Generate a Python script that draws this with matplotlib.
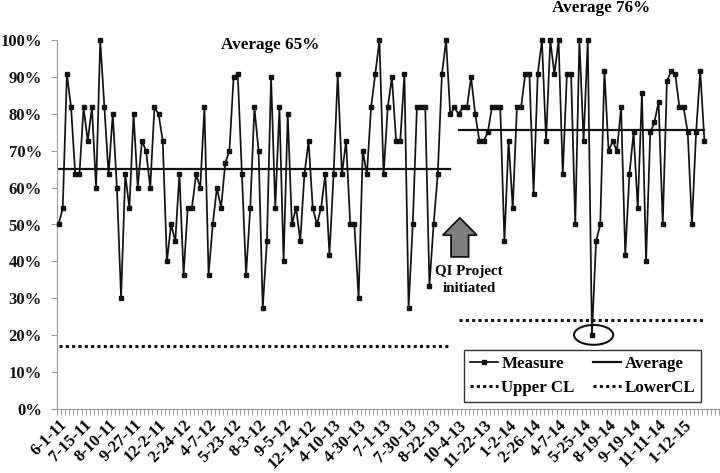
import matplotlib
matplotlib.use('Agg')
import matplotlib.pyplot as plt
from matplotlib.patches import Ellipse, Polygon

plt.rcParams['font.family'] = ['Liberation Serif', 'DejaVu Serif']
plt.rcParams['font.weight'] = 'bold'

# one point per review
measure = [
    50, 54.5, 90.9, 81.8, 63.6, 63.6, 81.8, 72.7, 81.8, 60,
    100, 81.8, 63.6, 80, 60, 30, 63.6, 54.5, 80, 60,
    72.7, 70, 60, 81.8, 80, 72.7, 40, 50, 45.5, 63.6,
    36.4, 54.5, 54.5, 63.6, 60, 81.8, 36.4, 50, 60, 54.5,
    66.7, 70, 90, 90.9, 63.6, 36.4, 54.5, 81.8, 70, 27.3,
    45.5, 90, 54.5, 81.8, 40, 80, 50, 54.5, 45.5, 63.6,
    72.7, 54.5, 50, 54.5, 63.6, 41.7, 63.6, 90.9, 63.6, 72.7,
    50, 50, 30, 70, 63.6, 81.8, 90.9, 100, 63.6, 81.8,
    90, 72.7, 72.7, 90.9, 27.3, 50, 81.8, 81.8, 81.8, 33.3,
    50, 63.6, 90.9, 100, 80, 81.8, 80, 81.8, 81.8, 90,
    80, 72.7, 72.7, 75, 81.8, 81.8, 81.8, 45.5, 72.7, 54.5,
    81.8, 81.8, 90.9, 90.9, 58.3, 90.9, 100, 72.7, 100, 90.9,
    100, 63.6, 90.9, 90.9, 50, 100, 72.7, 100, 20, 45.5,
    50, 91.7, 70, 72.7, 70, 81.8, 41.7, 63.6, 75, 54.5,
    85.7, 40, 75, 77.8, 83.3, 50, 88.9, 91.7, 90.9, 81.8,
    81.8, 75, 50, 75, 91.7, 72.7,
]
date_labels = [
    '6-1-11', '7-15-11', '8-10-11', '9-27-11', '12-2-11', '2-24-12', '4-7-12',
    '5-23-12', '8-3-12', '9-5-12', '12-14-12', '4-10-13', '4-30-13', '7-1-13',
    '7-30-13', '8-22-13', '10-4-13', '11-22-13', '1-2-14', '2-26-14', '4-7-14',
    '5-25-14', '8-19-14', '9-19-14', '11-11-14', '1-12-15',
]
avg_before = 65.2
avg_after = 75.6
cl_before = 17
cl_after = 24
split_before = 94
split_after = 96

dots = (0, (1, 1.07))

fig = plt.figure(figsize=(7.2, 4.73), dpi=100)
ax = fig.add_axes([56.5 / 720, 1 - 408.5 / 473, 662.5 / 720, 368 / 473])

xs = list(range(len(measure)))
ax.plot(xs, measure, color='#111111', lw=1.25, marker='s', ms=2.9, label='Measure', zorder=3, clip_on=False)

ax.plot([0, split_before], [avg_before, avg_before], color='#111111', lw=1.6, label='Average')
ax.plot([split_after, xs[-1]], [avg_after, avg_after], color='#111111', lw=1.6)

ax.plot([], [], color='#111111', lw=2.2, ls=dots, label='Upper CL')
ax.plot([0, split_before], [cl_before, cl_before], color='#111111', lw=2.2, ls=dots, label='LowerCL')
ax.plot([split_after, xs[-1]], [cl_after, cl_after], color='#111111', lw=2.2, ls=dots)

ax.set_xlim(-0.5, 158.5)
ax.set_ylim(0, 100)

ax.set_yticks(range(0, 101, 10))
ax.set_yticklabels([str(v) + '%' for v in range(0, 101, 10)], fontsize=12)
ax.set_xticks(xs[::6])
ax.set_xticklabels(date_labels, fontsize=12, rotation=45, ha='right', rotation_mode='anchor')
ax.set_xticks([i - 0.5 for i in range(160)], minor=True)
ax.tick_params(axis='x', which='major', length=0, pad=6)
ax.tick_params(axis='x', which='minor', length=4.5, width=0.7, color='#999999')
ax.tick_params(axis='y', length=4, width=0.8, color='#999999', pad=6.5, labelcolor='#111111')

ax.spines['top'].set_visible(False)
ax.spines['right'].set_visible(False)
ax.spines['left'].set_color('#999999')
ax.spines['bottom'].set_color('#999999')

ax.text(50.7, 98.7, 'Average 65%', fontsize=12.3, ha='center', va='center')
ax.text(130.2, 108.7, 'Average 76%', fontsize=12.3, ha='center', va='center', clip_on=False)
ax.text(98.5, 35.0, 'QI Project\ninitiated', fontsize=10.8, ha='center', va='center', linespacing=1.4)

# grey arrow at the start of the project
arrow = [(94.2, 41.2), (94.2, 47.1), (92.2, 47.1), (96.3, 51.8),
         (100.4, 47.1), (98.4, 47.1), (98.4, 41.2)]
ax.add_patch(Polygon(arrow, closed=True, facecolor='#7f7f7f', edgecolor='#111111', lw=1.3, zorder=4))
ax.add_patch(Ellipse((128.4, 20), 9.4, 5.4, facecolor='none', edgecolor='#111111', lw=1.5, zorder=4))

# legend is filled column by column
handles, labels = ax.get_legend_handles_labels()
order = [labels.index(n) for n in ['Measure', 'Upper CL', 'Average', 'LowerCL']]
leg = ax.legend([handles[i] for i in order], [labels[i] for i in order], ncol=2, loc='lower left',
                bbox_to_anchor=(407.8 / 662.5, 6.5 / 368), borderaxespad=0, fontsize=12.2,
                fancybox=False, framealpha=1, edgecolor='#333333', borderpad=0.33,
                handlelength=1.65, handletextpad=0.2, columnspacing=1.1, labelspacing=0.5)
leg.get_frame().set_linewidth(1)
leg.set_zorder(5)

plt.savefig('out.png', dpi=100)
